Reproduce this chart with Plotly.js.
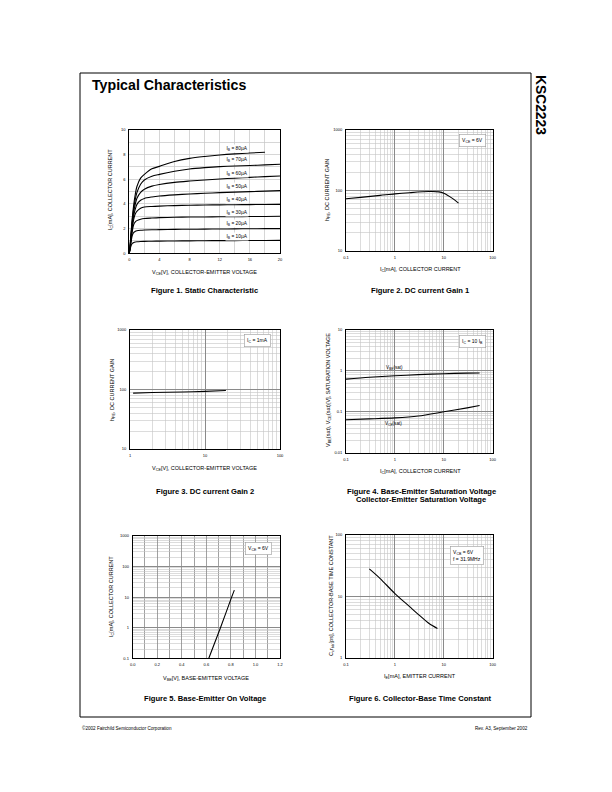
<!DOCTYPE html>
<html><head><meta charset="utf-8">
<script src="https://cdn.plot.ly/plotly-3.0.1.min.js"></script>
<style>html,body{margin:0;padding:0;background:#fff}#c{width:612px;height:792px}</style>
</head><body><div id="c"></div>
<script>
// ---------- DATA ----------
// Figure 1: static characteristic
const f1_vce = [0, 0.2, 0.4, 0.6, 0.8, 1, 1.5, 2, 3, 4, 6, 8, 10, 12, 14, 16, 18, 20];
const f1_ib10 = [0, 0.55, 0.8, 0.88, 0.92, 0.94, 0.96, 0.97, 0.98, 0.99, 1.0, 1.01, 1.02, 1.03, 1.03, 1.04, 1.04, 1.05];
const f1_ib20 = [0, 0.8, 1.45, 1.7, 1.78, 1.83, 1.87, 1.89, 1.91, 1.92, 1.94, 1.95, 1.96, 1.97, 1.98, 1.99, 2.0, 2.0];
const f1_ib30 = [0, 0.9, 1.8, 2.35, 2.55, 2.65, 2.76, 2.82, 2.86, 2.89, 2.92, 2.94, 2.95, 2.96, 2.97, 2.98, 2.99, 3.0];
const f1_ib40 = [0, 1.0, 2.1, 2.8, 3.2, 3.4, 3.65, 3.75, 3.8, 3.83, 3.87, 3.9, 3.92, 3.93, 3.94, 3.95, 3.96, 3.97];
const f1_ib50 = [0, 1.1, 2.3, 3.1, 3.6, 3.95, 4.3, 4.45, 4.57, 4.65, 4.74, 4.81, 4.87, 4.92, 4.96, 5.0, 5.04, 5.08];
const f1_ib60 = [0, 1.2, 2.5, 3.4, 4.0, 4.45, 4.95, 5.2, 5.45, 5.58, 5.75, 5.86, 5.95, 6.03, 6.1, 6.16, 6.22, 6.27];
const f1_ib70 = [0, 1.3, 2.7, 3.7, 4.4, 4.9, 5.6, 5.95, 6.25, 6.4, 6.65, 6.84, 6.95, 7.03, 7.08, 7.12, 7.17, 7.22];
const f1_ib80 = [0, 1.4, 2.9, 4.0, 4.8, 5.4, 6.1, 6.4, 6.85, 7.05, 7.45, 7.7, 7.85, 7.97, 8.06, 8.13, 8.2, null];
const f1_labels = ["10", "20", "30", "40", "50", "60", "70", "80"];
const f1_labelY = [1.4, 2.38, 3.3, 4.4, 5.4, 6.5, 7.57, 8.5];
const f1_xticks = [0, 4, 8, 12, 16, 20];
const f1_yticks = [0, 2, 4, 6, 8, 10];

// Figure 2: DC current gain vs Ic
const f2_ic = [0.1, 0.2, 0.5, 1, 2, 5, 8, 10, 15, 20];
const f2_hfe = [73, 77, 83, 88, 92, 96, 95, 90, 74, 62];

// Figure 3: DC current gain vs Vce
const f3_vce = [1.1, 2, 5, 10, 19];
const f3_hfe = [87, 89, 91, 93, 96];

// Figure 4: saturation voltages
const f4_ic = [0.1, 0.3, 1, 3, 10, 30, 54];
const f4_vbe = [0.63, 0.70, 0.76, 0.81, 0.855, 0.88, 0.89];
const f4_vce = [0.064, 0.067, 0.071, 0.079, 0.10, 0.125, 0.142];

// Figure 5: base-emitter on voltage
const f5_vbe = [0.62, 0.715, 0.806, 0.828];
const f5_ic = [0.1, 1, 10, 17];

// Figure 6: collector-base time constant
const f6_ie = [0.3, 0.5, 1, 2, 3, 5, 7.4];
const f6_tc = [28, 19.5, 11.1, 6.8, 5.1, 3.6, 3.0];

// ---------- HELPERS ----------
const W = 612, H = 792;
const px = x => x / W;
const py = y => 1 - y / H;
const FONT = "Liberation Sans, Arial, sans-serif";
const MAJ = "#8a8a8a", MIN = "#c4c4c4";

function logMinor(lo, hi) {
  const v = [];
  for (let e = lo; e < hi; e++) for (let m = 2; m <= 9; m++) v.push(m * Math.pow(10, e));
  return v;
}
function decades(lo, hi) { const v = []; for (let e = lo; e <= hi; e++) v.push(Math.pow(10, e)); return v; }
function decText(lo, hi) { return decades(lo, hi).map(v => String(+v.toPrecision(3))); }

function baseAxis(extra) {
  return Object.assign({
    showline: true, linecolor: "#000", linewidth: 1, mirror: true,
    ticks: "", zeroline: false, showgrid: true,
    tickfont: { size: 4, family: FONT, color: "#000" }, ticklabelstandoff: 2,
    fixedrange: true
  }, extra);
}
function logAxis(domain, lo, hi, anchor, labels) {
  return baseAxis({
    type: "log", domain: domain, range: [lo, hi], anchor: anchor,
    tickmode: "array", tickvals: decades(lo, hi), ticktext: labels || decText(lo, hi),
    gridcolor: MAJ, gridwidth: 1,
    minor: { tickmode: "array", tickvals: logMinor(lo, hi), showgrid: true, gridcolor: MIN, gridwidth: 0.6, ticks: "" }
  });
}

// ---------- DOMAINS ----------
const D = {
  x1: [px(129.3), px(280)], y1: [py(253.3), py(130)],
  x2: [px(346), px(492.7)], y2: [py(251), py(130)],
  x3: [px(130), px(280)], y3: [py(449), py(330)],
  x4: [px(346), px(492.7)], y4: [py(452.7), py(330)],
  x5: [px(132.7), px(280)], y5: [py(658.3), py(536)],
  x6: [px(346), px(492.7)], y6: [py(657.7), py(535)]
};

const line = { color: "#000", width: 1.1, shape: "spline", smoothing: 0.8 };
const traces = [];
[f1_ib10, f1_ib20, f1_ib30, f1_ib40, f1_ib50, f1_ib60, f1_ib70, f1_ib80].forEach(ic => {
  traces.push({ x: f1_vce, y: ic, xaxis: "x", yaxis: "y", mode: "lines", line: line, connectgaps: false });
});
traces.push({ x: f2_ic, y: f2_hfe, xaxis: "x2", yaxis: "y2", mode: "lines", line: line });
traces.push({ x: f3_vce, y: f3_hfe, xaxis: "x3", yaxis: "y3", mode: "lines", line: line });
traces.push({ x: f4_ic, y: f4_vbe, xaxis: "x4", yaxis: "y4", mode: "lines", line: line });
traces.push({ x: f4_ic, y: f4_vce, xaxis: "x4", yaxis: "y4", mode: "lines", line: line });
traces.push({ x: f5_vbe, y: f5_ic, xaxis: "x5", yaxis: "y5", mode: "lines", line: line });
traces.push({ x: f6_ie, y: f6_tc, xaxis: "x6", yaxis: "y6", mode: "lines", line: line });

const linMinor = (a, b, s) => { const v = []; for (let t = a; t <= b + 1e-9; t += s) v.push(+t.toFixed(3)); return v; };

const layout = {
  width: W, height: H, margin: { l: 0, r: 0, t: 0, b: 0 },
  paper_bgcolor: "#fff", plot_bgcolor: "#fff", showlegend: false,
  font: { family: FONT, color: "#000" },
  xaxis: baseAxis({ domain: D.x1, range: [0, 20], anchor: "y", tickmode: "array", tickvals: f1_xticks, ticktext: f1_xticks.map(String),
    gridcolor: MIN, gridwidth: 0.7, minor: { tickmode: "array", tickvals: linMinor(2, 18, 4), showgrid: true, gridcolor: MIN, gridwidth: 0.7 } }),
  yaxis: baseAxis({ domain: D.y1, range: [0, 10], anchor: "x", tickmode: "array", tickvals: f1_yticks, ticktext: f1_yticks.map(String),
    gridcolor: MIN, gridwidth: 0.7, minor: { tickmode: "array", tickvals: linMinor(1, 9, 2), showgrid: true, gridcolor: MIN, gridwidth: 0.7 } }),
  xaxis2: logAxis(D.x2, -1, 2, "y2"),
  yaxis2: logAxis(D.y2, 1, 3, "x2"),
  xaxis3: logAxis(D.x3, 0, 2, "y3"),
  yaxis3: logAxis(D.y3, 1, 3, "x3"),
  xaxis4: logAxis(D.x4, -1, 2, "y4"),
  yaxis4: logAxis(D.y4, -2, 1, "x4"),
  xaxis5: baseAxis({ domain: D.x5, range: [0, 1.2], anchor: "y5", tickmode: "array",
    tickvals: [0, 0.2, 0.4, 0.6, 0.8, 1.0, 1.2], ticktext: ["0.0", "0.2", "0.4", "0.6", "0.8", "1.0", "1.2"],
    gridcolor: MAJ, gridwidth: 0.8, minor: { tickmode: "array", tickvals: linMinor(0.1, 1.1, 0.2), showgrid: true, gridcolor: MAJ, gridwidth: 0.8 } }),
  yaxis5: logAxis(D.y5, -1, 3, "x5"),
  xaxis6: logAxis(D.x6, -1, 2, "y6"),
  yaxis6: logAxis(D.y6, 0, 2, "x6"),
  annotations: [], shapes: []
};

const A = layout.annotations;
function txt(x, y, text, o) {
  A.push(Object.assign({ xref: "paper", yref: "paper", x: px(x), y: py(y), text: text, showarrow: false,
    font: { size: 5.5, family: FONT, color: "#000" }, xanchor: "center", yanchor: "middle" }, o || {}));
}
function box(x, y, text, o) {
  txt(x, y, text, Object.assign({ bgcolor: "#fff", bordercolor: "#9a9a9a", borderwidth: 0.6, borderpad: 2.5, font: { size: 5, family: FONT, color: "#000" } }, o || {}));
}

// Page frame and headings
layout.shapes.push({ type: "rect", xref: "paper", yref: "paper", x0: px(80), x1: px(531), y0: py(717), y1: py(73), line: { color: "#000", width: 1 } });
txt(90, 85, "<b>Typical Characteristics</b>", { xanchor: "left", font: { size: 14.2, family: FONT } });
txt(541, 105, "<b>KSC2223</b>", { textangle: 90, font: { size: 13.8, family: FONT } });
txt(80, 728, "©2002 Fairchild Semiconductor Corporation", { xanchor: "left", font: { size: 4.6, family: FONT } });
txt(530, 728, "Rev. A3, September 2002", { xanchor: "right", font: { size: 4.6, family: FONT } });

// Figure 1 labels
f1_labels.forEach((l, i) => {
  A.push({ xref: "x", yref: "y", x: 14.3, y: f1_labelY[i], text: "I<sub>B</sub> = " + l + "µA", showarrow: false,
    bgcolor: "#fff", borderpad: 0.5, font: { size: 4.8, family: FONT, color: "#000" } });
});
txt(111, 190, "I<sub>C</sub>[mA], COLLECTOR CURRENT", { textangle: -90 });
txt(205, 272, "V<sub>CE</sub>[V], COLLECTOR-EMITTER VOLTAGE");
txt(205, 290, "<b>Figure 1. Static Characteristic</b>", { font: { size: 7.6, family: FONT } });

// Figure 2
box(472, 140, "V<sub>CE</sub> = 6V");
txt(328, 190, "h<sub>FE</sub>, DC CURRENT GAIN", { textangle: -90 });
txt(420, 270, "I<sub>C</sub>[mA], COLLECTOR CURRENT");
txt(420, 290, "<b>Figure 2. DC current Gain 1</b>", { font: { size: 7.6, family: FONT } });

// Figure 3
box(257, 340, "I<sub>C</sub> = 1mA");
txt(112, 390, "h<sub>FE</sub>, DC CURRENT GAIN", { textangle: -90 });
txt(205, 469, "V<sub>CE</sub>[V], COLLECTOR-EMITTER VOLTAGE");
txt(205, 491, "<b>Figure 3. DC current Gain 2</b>", { font: { size: 7.6, family: FONT } });

// Figure 4
box(472, 341, "I<sub>C</sub> = 10 I<sub>B</sub>");
A.push({ xref: "x4", yref: "y4", x: 0.0, y: 0.07, text: "V<sub>BE</sub>(sat)", showarrow: false, font: { size: 4.6, family: FONT, color: "#000" } });
A.push({ xref: "x4", yref: "y4", x: -0.03, y: -1.29, text: "V<sub>CE</sub>(sat)", showarrow: false, font: { size: 4.6, family: FONT, color: "#000" } });
txt(328, 390, "V<sub>BE</sub>(sat), V<sub>CE</sub>(sat)[V], SATURATION VOLTAGE", { textangle: -90 });
txt(420, 471, "I<sub>C</sub>[mA], COLLECTOR CURRENT");
txt(421, 491, "<b>Figure 4. Base-Emitter Saturation Voltage</b>", { font: { size: 7.6, family: FONT } });
txt(421, 500, "<b>Collector-Emitter Saturation Voltage</b>", { font: { size: 7.6, family: FONT } });

// Figure 5
box(258, 548, "V<sub>CE</sub> = 6V");
txt(111, 597, "I<sub>C</sub>[mA], COLLECTOR CURRENT", { textangle: -90 });
txt(206, 678, "V<sub>BE</sub>[V], BASE-EMITTER VOLTAGE");
txt(205, 698, "<b>Figure 5. Base-Emitter On Voltage</b>", { font: { size: 7.6, family: FONT } });

// Figure 6
box(467, 555, "V<sub>CB</sub> = 6V<br>f = 31.9MHz", { align: "left", xanchor: "center" });
txt(331, 596, "C<sub>c</sub>r<sub>bb'</sub>[ps], COLLECTOR-BASE TIME CONSTANT", { textangle: -90 });
txt(420, 676, "I<sub>E</sub>[mA], EMITTER CURRENT");
txt(420, 698, "<b>Figure 6. Collector-Base Time Constant</b>", { font: { size: 7.6, family: FONT } });

Plotly.newPlot("c", traces, layout, { staticPlot: true, displayModeBar: false });
</script>
</body></html>
